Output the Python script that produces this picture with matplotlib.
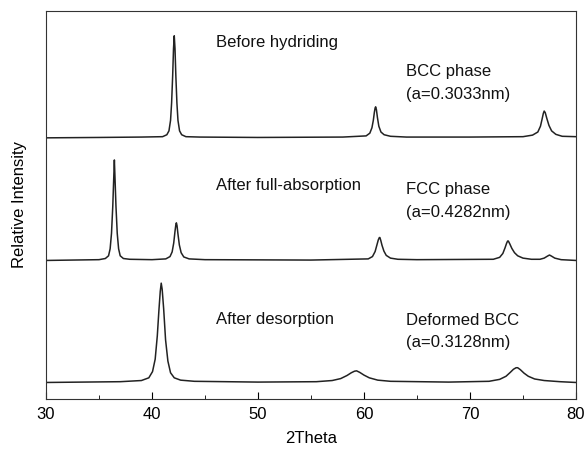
import matplotlib
matplotlib.use('Agg')
from matplotlib import pyplot as plt
from matplotlib.ticker import MultipleLocator

plt.rcParams['font.family'] = ['Liberation Sans', 'DejaVu Sans']

# 2Theta / relative intensity outline points
before_x = [30, 35, 39, 41.0, 41.4, 41.6, 41.75, 41.85, 41.95, 42.03, 42.1,
            42.17, 42.25, 42.35, 42.45, 42.6, 42.8, 43.2, 44.5, 50, 58,
            60.2, 60.55, 60.75, 60.88, 60.98, 61.05, 61.1, 61.17, 61.27,
            61.4, 61.6, 61.9, 62.5, 64, 70, 75.0, 75.9, 76.4, 76.65, 76.8,
            76.92, 77.0, 77.1, 77.25, 77.45, 77.7, 78.1, 78.7, 80]
before_y = [0, 0.1, 0.2, 0.3, 0.8, 1.8, 4.5, 9, 16, 23, 26.3,
            23, 16, 9, 4.5, 1.8, 0.8, 0.3, 0.2, 0.1, 0.2,
            0.5, 1.2, 2.6, 4.5, 6.6, 7.7, 8.0, 7.3, 5.2,
            3.0, 1.5, 0.8, 0.4, 0.2, 0.2, 0.3, 0.7, 1.5, 3.0, 4.8,
            6.3, 6.9, 6.5, 5.0, 3.2, 1.8, 0.9, 0.4, 0.3]

absorb_x = [30, 35, 35.6, 35.9, 36.05, 36.18, 36.3, 36.4, 36.45, 36.5,
            36.6, 36.72, 36.85, 37.0, 37.3, 37.9, 40, 41.3, 41.7, 41.9,
            42.05, 42.17, 42.25, 42.3, 42.36, 42.45, 42.58, 42.75, 43.0,
            43.5, 45, 55, 60.4, 60.8, 61.05, 61.22, 61.35, 61.45, 61.5,
            61.58, 61.7, 61.88, 62.1, 62.5, 63.2, 65, 72.2, 72.8, 73.1,
            73.3, 73.45, 73.55, 73.62, 73.75, 73.95, 74.2, 74.5, 75.0, 75.8,
            76.6, 77.0, 77.3, 77.5, 77.7, 78.0, 78.6, 80]
absorb_y = [0, 0.2, 0.5, 1.2, 3, 7, 14, 22, 25.9, 22,
            14, 7, 3, 1.2, 0.5, 0.3, 0.2, 0.4, 1.0, 2.2,
            4.5, 7.5, 9.2, 9.7, 9.0, 6.8, 4.0, 2.0, 0.9,
            0.4, 0.2, 0.1, 0.4, 1.0, 2.3, 4.0, 5.3, 5.9, 5.9,
            5.2, 3.9, 2.4, 1.3, 0.6, 0.3, 0.2, 0.3, 0.8, 1.8,
            3.2, 4.4, 5.0, 5.0, 4.3, 3.1, 2.0, 1.2, 0.6, 0.3,
            0.3, 0.6, 1.1, 1.4, 1.1, 0.6, 0.2, 0]

desorb_x = [30, 37, 39.0, 39.7, 40.05, 40.3, 40.5, 40.65, 40.78, 40.87,
            40.96, 41.1, 41.28, 41.5, 41.75, 42.1, 42.7, 44, 50, 55.5,
            57.0, 57.8, 58.4, 58.8, 59.1, 59.3, 59.6, 60.0, 60.5, 61.3,
            62.5, 68, 71.8, 72.8, 73.4, 73.8, 74.1, 74.35, 74.5, 74.75,
            75.1, 75.5, 76.1, 77.0, 78.5, 80]
desorb_y = [0, 0.2, 0.5, 1.2, 2.8, 6, 12, 18.5, 23.5, 25.6,
            24, 19, 11, 5.5, 2.5, 1.2, 0.6, 0.3, 0.1, 0.2,
            0.5, 1.0, 1.8, 2.5, 2.9, 3.0, 2.6, 1.9, 1.2, 0.6,
            0.3, 0.1, 0.3, 0.8, 1.6, 2.6, 3.4, 3.8, 3.8, 3.3,
            2.4, 1.6, 0.9, 0.5, 0.2, 0]

offsets = [67.3, 35.7, 4.25]  # vertical stacking of the three patterns

sample_labels = ['Before hydriding', 'After full-absorption', 'After desorption']
phase_labels = ['BCC phase\n(a=0.3033nm)', 'FCC phase\n(a=0.4282nm)',
                'Deformed BCC\n(a=0.3128nm)']

fig = plt.figure(figsize=(5.86, 4.57), dpi=100)
ax = fig.add_axes([0.0785, 0.127, 0.9044, 0.849])

traces = [(before_x, before_y), (absorb_x, absorb_y), (desorb_x, desorb_y)]
for (xs, ys), off in zip(traces, offsets):
    ax.plot(xs, [y + off for y in ys], color='#222222', lw=1.1)

sample_pos = [92.0, 54.9, 20.6]
phase_pos = [81.4, 51.0, 17.4]
for lab, yy in zip(sample_labels, sample_pos):
    ax.text(46.0, yy, lab, fontsize=12, va='center', ha='left', color='#111111')
for lab, yy in zip(phase_labels, phase_pos):
    ax.text(64.0, yy, lab, fontsize=12, va='center', ha='left', color='#111111',
            linespacing=1.65)

ax.set_xlim(30, 80)
ax.set_ylim(0, 100)
ax.xaxis.set_major_locator(MultipleLocator(10))
ax.xaxis.set_minor_locator(MultipleLocator(5))
ax.tick_params(axis='x', which='both', direction='in', labelsize=12, pad=6)
ax.tick_params(axis='x', which='major', length=5)
ax.tick_params(axis='x', which='minor', length=3)
ax.set_yticks([])
for sp in ax.spines.values():
    sp.set_color('#333333')
ax.set_xlabel('2Theta', fontsize=12, labelpad=6)
ax.set_ylabel('Relative Intensity', fontsize=12, labelpad=14)

fig.savefig('out.png', dpi=100)
